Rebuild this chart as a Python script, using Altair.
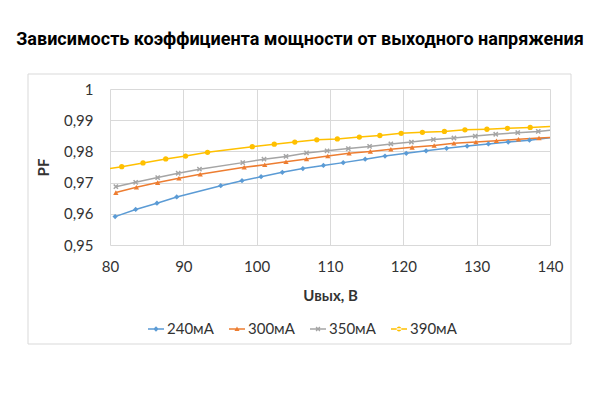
import altair as alt
import pandas as pd

# series (U out, V -> PF)
x_240 = [80.7, 83.5, 86.4, 89.1, 95.1, 98.0, 100.6, 103.5, 106.3, 109.1, 111.8, 114.8, 117.5,
         120.4, 123.1, 125.9, 128.7, 131.6, 134.3, 137.2, 141.0]
pf_240 = [0.9591, 0.9614, 0.9634, 0.9654, 0.9690, 0.9706, 0.9719, 0.9733, 0.9745, 0.9755, 0.9764,
          0.9775, 0.9785, 0.9794, 0.9802, 0.9810, 0.9817, 0.9824, 0.9830, 0.9836, 0.9847]

x_300 = [80.8, 83.6, 86.5, 89.4, 92.3, 98.3, 101.1, 104.0, 106.8, 109.7, 112.6, 115.5, 118.3,
         121.2, 124.2, 126.9, 129.9, 132.7, 135.7, 138.5, 141.0]
pf_300 = [0.9668, 0.9685, 0.9700, 0.9714, 0.9727, 0.9749, 0.9757, 0.9767, 0.9776, 0.9785, 0.9794,
          0.9800, 0.9807, 0.9813, 0.9819, 0.9826, 0.9830, 0.9834, 0.9839, 0.9843, 0.9846]

x_350 = [80.8, 83.5, 86.5, 89.3, 92.2, 98.1, 101.0, 104.0, 106.8, 109.6, 112.5, 115.4, 118.3,
         121.1, 124.1, 126.9, 129.8, 132.6, 135.6, 138.4, 141.0]
pf_350 = [0.9687, 0.9701, 0.9716, 0.9730, 0.9743, 0.9764, 0.9775, 0.9784, 0.9795, 0.9802, 0.9809,
          0.9816, 0.9824, 0.9830, 0.9838, 0.9843, 0.9849, 0.9855, 0.9860, 0.9864, 0.9870]

x_390 = [78.6, 81.6, 84.5, 87.6, 90.3, 93.3, 99.4, 102.4, 105.2, 108.2, 111.0, 114.0, 116.8,
         119.7, 122.6, 125.6, 128.4, 131.4, 134.2, 137.3, 141.0]
pf_390 = [0.9740, 0.9751, 0.9763, 0.9776, 0.9785, 0.9797, 0.9815, 0.9823, 0.9830, 0.9837, 0.9840,
          0.9846, 0.9851, 0.9858, 0.9861, 0.9864, 0.9869, 0.9871, 0.9874, 0.9877, 0.9881]

series = ["240мА", "300мА", "350мА", "390мА"]
colors = ["#5B9BD5", "#ED7D31", "#A5A5A5", "#FFC000"]
x_ticks = [80, 90, 100, 110, 120, 130, 140]
y_ticks = [0.95, 0.96, 0.97, 0.98, 0.99, 1.0]

rows = []
for name, xs, ys in zip(series, [x_240, x_300, x_350, x_390], [pf_240, pf_300, pf_350, pf_390]):
    for u, p in zip(xs, ys):
        rows.append({"u": u, "pf": p, "series": name})
df = pd.DataFrame(rows)

xmark = "M-1,-0.6L-0.6,-1L0,-0.4L0.6,-1L1,-0.6L0.4,0L1,0.6L0.6,1L0,0.4L-0.6,1L-1,0.6L-0.4,0Z"
shapes = ["diamond", "triangle-up", xmark, "circle"]

# legend symbols: short line with the marker on it, like Excel
bar = "M-1,-0.08H1V0.08H-1Z"
leg_shapes = [
    bar + "M0,-0.34L0.34,0L0,0.34L-0.34,0Z",
    bar + "M0,-0.32L0.32,0.26L-0.32,0.26Z",
    bar + "M-0.3,-0.18L-0.18,-0.3L0,-0.12L0.18,-0.3L0.3,-0.18L0.12,0L0.3,0.18L0.18,0.3L0,0.12L-0.18,0.3L-0.3,0.18L-0.12,0Z",
    bar + "M-0.3,0A0.3,0.3 0 1,0 0.3,0A0.3,0.3 0 1,0 -0.3,0Z",
]

txt = "#333333"

legend = alt.Legend(title=None, orient="none", legendX=37, legendY=231,
                    direction="horizontal", symbolSize=256, labelOffset=2, symbolOpacity=1)

x_enc = alt.X("u:Q", title="Uвых, В",
              scale=alt.Scale(domain=[80, 140], nice=False),
              axis=alt.Axis(values=x_ticks, labelPadding=14, labelFlush=False,
                            titleY=50, titleBaseline="middle"))
y_enc = alt.Y("pf:Q", title="PF",
              scale=alt.Scale(domain=[0.95, 1.0], nice=False, zero=False),
              axis=alt.Axis(values=y_ticks, labelPadding=17, labelFlush=False,
                            titleX=-67, titleBaseline="middle",
                            labelExpr="datum.value >= 0.9999 ? '1' : replace(format(datum.value, '.2f'), '.', ',')"))
color_scale = alt.Scale(domain=series, range=colors)

base = alt.Chart(df)
lines = base.mark_line(strokeWidth=1.5, clip=True).encode(
    x=x_enc, y=y_enc, color=alt.Color("series:N", scale=color_scale, legend=None))
points = base.mark_point(filled=True, size=28, opacity=1, clip=True).encode(
    x=x_enc, y=y_enc, color=alt.Color("series:N", scale=color_scale, legend=None),
    shape=alt.Shape("series:N", scale=alt.Scale(domain=series, range=shapes), legend=None))
# invisible layer that only carries the legend (line + marker symbols)
legend_layer = base.mark_point(filled=True, opacity=0, clip=True).encode(
    x=x_enc, y=y_enc, color=alt.Color("series:N", scale=color_scale, legend=legend),
    shape=alt.Shape("series:N", scale=alt.Scale(domain=series, range=leg_shapes), legend=legend))

frame = alt.Chart(pd.DataFrame({"f": [0]})).mark_rect(fill="transparent", stroke="#D9D9D9", strokeWidth=1).encode(
    x=alt.value(-82), x2=alt.value(461), y=alt.value(-15), y2=alt.value(255))

title = alt.TitleParams("Зависимость коэффициента мощности от выходного напряжения",
                        font="Roboto", fontSize=18, fontWeight="bold", color="#000000",
                        anchor="middle", frame="group", baseline="alphabetic", offset=11, dx=-30)

chart = alt.layer(frame, lines, points, legend_layer).resolve_scale(
    color="independent", shape="independent"
).properties(
    width=440, height=156, title=title,
    autosize=alt.AutoSizeParams(type="none"),
    padding={"left": 102, "top": 81, "right": 42, "bottom": 140},
).configure_axis(
    grid=True, gridColor="#D9D9D9", gridWidth=1, domain=False, ticks=False,
    labelFont="Lato", labelFontSize=15, labelColor=txt,
    titleFont="Lato", titleFontSize=15, titleColor=txt, titleFontWeight="bold",
).configure_legend(
    labelFont="Lato", labelFontSize=15, labelColor=txt, columnPadding=12,
).configure_view(stroke="transparent")

chart.save("out.html", embed_options={"renderer": "svg", "actions": False})
